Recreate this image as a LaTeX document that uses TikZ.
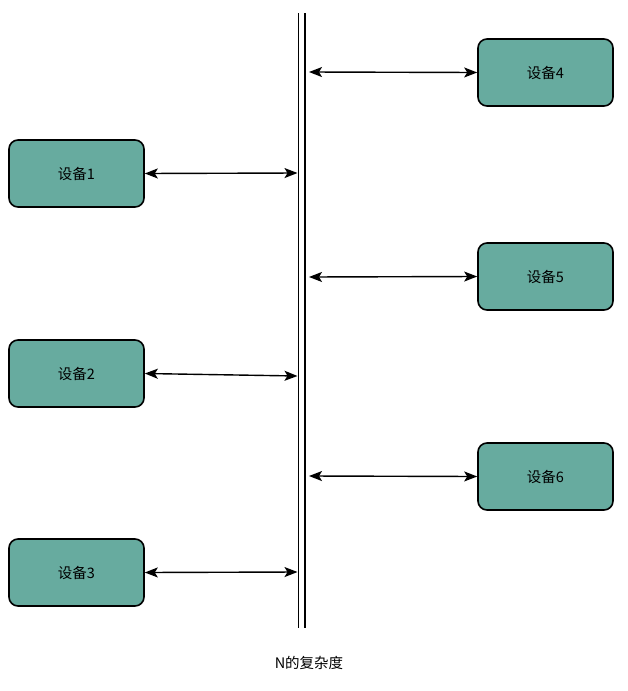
\documentclass[tikz,border=0pt]{standalone}
\usepackage{fontspec}
\setmainfont{Noto Sans CJK SC}
\usetikzlibrary{arrows.meta}
\definecolor{devfill}{HTML}{67AB9F}
\begin{document}
\begin{tikzpicture}[x=1pt,y=-1pt,
  dev/.style={draw=black,line width=1.6pt,fill=devfill,rounded corners=9pt,minimum width=135pt,minimum height=67pt,inner sep=0pt,font=\fontsize{14.5}{17}\selectfont},
  link/.style={line width=1.4pt,{Stealth[length=13pt,width=10pt,inset=3pt]}-{Stealth[length=13pt,width=10pt,inset=3pt]}},
  busline/.style={line width=1.5pt}]
\useasboundingbox (0,0) rectangle (627,691);
\node[dev] (d1) at (76.5,173.5) {设备1};
\node[dev] (d2) at (76.5,373.5) {设备2};
\node[dev] (d3) at (76.5,572.5) {设备3};
\node[dev] (d4) at (545.5,72.5) {设备4};
\node[dev] (d5) at (545.5,276.5) {设备5};
\node[dev] (d6) at (545.5,476.5) {设备6};
\coordinate (lt) at (298.5,13);
\coordinate (lb) at (298.5,628);
\coordinate (rt) at (305,13);
\coordinate (rb) at (305,628);
\draw[busline] (lt) -- (lb);
\draw[busline] (rt) -- (rb);
\coordinate (b1) at (297.5,173);
\coordinate (b2) at (297.5,376);
\coordinate (b3) at (297.5,572);
\coordinate (b4) at (309,72);
\coordinate (b5) at (309,277);
\coordinate (b6) at (309,476);
\draw[link] (d1.east) -- (b1);
\draw[link] (d2.east) -- (b2);
\draw[link] (d3.east) -- (b3);
\draw[link] (b4) -- (d4.west);
\draw[link] (b5) -- (d5.west);
\draw[link] (b6) -- (d6.west);
\node[font=\fontsize{14.5}{17}\selectfont] (cap) at (309,663) {N的复杂度};
\end{tikzpicture}
\end{document}
